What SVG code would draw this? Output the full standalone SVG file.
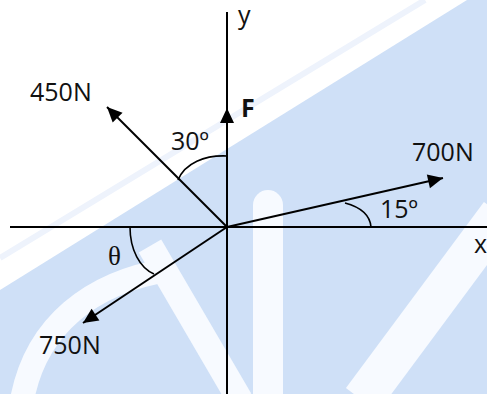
<svg xmlns="http://www.w3.org/2000/svg" width="487" height="394" viewBox="0 0 487 394">
<style>
.ax{stroke:#000;stroke-width:2;fill:none}
.arc{stroke:#000;stroke-width:1.6;fill:none}
.t{font-family:"Open Sans","Liberation Sans",sans-serif;font-size:25px;fill:#111}
.th{font-family:"Liberation Serif","DejaVu Serif",serif;font-size:27px;fill:#111}
.wm{fill:#cfe0f7}
.wh{fill:none;stroke:#f7faff;stroke-linecap:butt}
</style>
<defs>
<marker id="ah" markerUnits="userSpaceOnUse" markerWidth="18" markerHeight="16" viewBox="-16 -8 18 16" refX="0" refY="0" orient="auto">
<path d="M0,0 L-15,-7 L-15,7 Z" fill="#000"/>
</marker>
</defs>
<g id="watermark">
<rect width="487" height="394" fill="#ffffff"/>
<polygon class="wm" points="0,290 467,0 487,0 487,394 0,394"/>
<line x1="0" y1="258" x2="425" y2="0" stroke="#eef3fc" stroke-width="6"/>
<path class="wh" d="M22,400 C36,325 92,282 168,270" stroke-width="24"/>
<path class="wh" d="M150,246 L240,400" stroke-width="26"/>
<rect x="253" y="190" width="30" height="220" rx="15" fill="#f7faff"/>
<path class="wh" d="M500,214 L362,400" stroke-width="40"/>
</g>
<g id="connectors">
<line class="ax" x1="227" y1="12" x2="227" y2="394"/>
<line class="ax" x1="10" y1="227" x2="487" y2="227"/>
<line class="ax" x1="227" y1="140" x2="227" y2="108" marker-end="url(#ah)"/>
<line class="ax" x1="227" y1="227" x2="107" y2="107" marker-end="url(#ah)"/>
<line class="ax" x1="227" y1="227" x2="443" y2="178" marker-end="url(#ah)"/>
<line class="ax" x1="227" y1="227" x2="83" y2="323" marker-end="url(#ah)"/>
<path class="arc" d="M227,156 C205,155 185,163 178,180"/>
<path class="arc" d="M345,203 C360,207 370,215 371,227"/>
<path class="arc" d="M130,227 C130,250 140,268 154,274"/>
</g>
<g id="labels">
<text class="t" x="30" y="101">450N</text>
<text class="t" x="412" y="161">700N</text>
<text class="t" x="39" y="354">750N</text>
<text class="t" x="171" y="150">30º</text>
<text class="t" x="380" y="218">15º</text>
<text class="t" x="241" y="117" font-weight="bold" font-size="24">F</text>
<text class="t" x="238" y="24">y</text>
<text class="t" x="474" y="253">x</text>
<text class="th" x="108" y="265">θ</text>
</g>
</svg>
